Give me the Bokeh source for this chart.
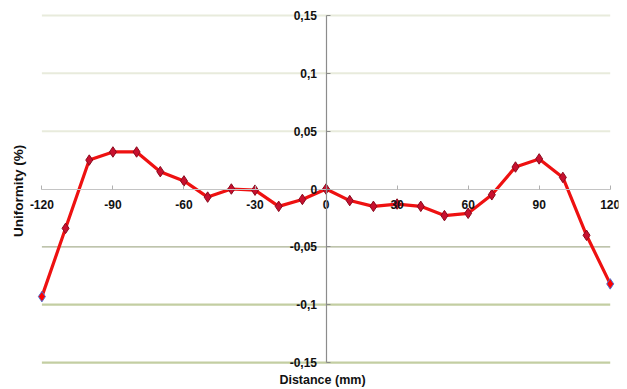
from bokeh.plotting import figure
from bokeh.models import Range1d, LinearAxis, FixedTicker
from bokeh.embed import file_html
from bokeh.resources import INLINE

distance = [-120, -110, -100, -90, -80, -70, -60, -50, -40, -30, -20, -10, 0,
            10, 20, 30, 40, 50, 60, 70, 80, 90, 100, 110, 120]
uniformity = [-0.093, -0.034, 0.025, 0.032, 0.032, 0.015, 0.007, -0.007, 0.0,
              -0.001, -0.015, -0.009, 0.0, -0.010, -0.015, -0.013, -0.015,
              -0.023, -0.021, -0.005, 0.019, 0.026, 0.010, -0.040, -0.082]

x_ticks = [-120, -90, -60, -30, 0, 30, 60, 90, 120]
x_tick_labels = ["-120", "-90", "-60", "-30", "0", "30", "60", "90", "120"]
y_ticks = [-0.15, -0.1, -0.05, 0, 0.05, 0.1, 0.15]
y_tick_labels = ["-0,15", "-0,1", "-0,05", "0", "0,05", "0,1", "0,15"]
upper_grid = [0.05, 0.1, 0.15]
lower_grid = [-0.1, -0.15]
mid_grid = [-0.05]
x_label = "Distance (mm)"
y_label = "Uniformity  (%)"

FONT = "Liberation Sans"

p = figure(width=627, height=389, output_backend="svg", toolbar_location=None,
           x_range=Range1d(-126.5, 123.5), y_range=Range1d(-0.156, 0.156),
           min_border_left=26, min_border_right=9, min_border_top=8,
           min_border_bottom=19)
p.outline_line_color = None
p.xgrid.visible = False
p.ygrid.visible = False
p.background_fill_color = "white"

# default axes: titles only
for ax in (p.below[0], p.left[0]):
    ax.ticker = FixedTicker(ticks=[])
    ax.axis_line_color = None
    ax.major_tick_line_color = None
    ax.minor_tick_line_color = None
    ax.major_label_text_font_size = "0px"
    ax.major_tick_out = 0
    ax.major_tick_in = 0
    ax.minor_tick_out = 0
    ax.minor_tick_in = 0
    ax.major_label_standoff = 0
    ax.axis_label_text_font = FONT
    ax.axis_label_text_font_style = "bold"
    ax.axis_label_text_color = "#111111"
p.below[0].axis_label = x_label
p.below[0].axis_label_text_font_size = "12.5px"
p.below[0].axis_label_standoff = 3
p.left[0].axis_label = y_label
p.left[0].axis_label_text_font_size = "13.5px"
p.left[0].axis_label_standoff = 1

# gridlines spanning the data extent
x0 = distance[0]
x1 = distance[-1]
p.segment(x0=[x0] * len(upper_grid), x1=[x1] * len(upper_grid), y0=upper_grid,
          y1=upper_grid, line_color="#e8ebdc", line_width=2, level="underlay")
p.segment(x0=[x0] * len(lower_grid), x1=[x1] * len(lower_grid), y0=lower_grid,
          y1=lower_grid, line_color="#c3cea2", line_width=2.2, level="underlay")
p.segment(x0=[x0] * len(mid_grid), x1=[x1] * len(mid_grid), y0=mid_grid,
          y1=mid_grid, line_color="#a9b091", line_width=1.2, level="underlay")

# crossing axes
xa = LinearAxis(fixed_location=0, ticker=FixedTicker(ticks=x_ticks),
                bounds=(x0, x1),
                major_label_overrides=dict(zip(x_ticks, x_tick_labels)))
xa.axis_line_color = "#c4c4c4"
xa.axis_line_width = 1.2
xa.major_tick_line_color = "#b0b0b0"
xa.major_tick_in = 4
xa.major_tick_out = 0
xa.minor_tick_line_color = None
xa.major_label_standoff = 11
xa.major_label_text_font = FONT
xa.major_label_text_font_style = "bold"
xa.major_label_text_font_size = "12px"
xa.major_label_text_color = "#111111"
p.add_layout(xa, "below")

ya = LinearAxis(fixed_location=0, ticker=FixedTicker(ticks=y_ticks),
                bounds=(y_ticks[0], y_ticks[-1]),
                major_label_overrides=dict(zip(y_ticks, y_tick_labels)))
ya.axis_line_color = "#8c8c8c"
ya.axis_line_width = 1.2
ya.major_tick_line_color = "#8c8c8c"
ya.major_tick_in = 4
ya.major_tick_out = 0
ya.minor_tick_line_color = None
ya.major_label_standoff = 9
ya.major_label_text_font = FONT
ya.major_label_text_font_style = "bold"
ya.major_label_text_font_size = "12px"
ya.major_label_text_color = "#111111"
p.add_layout(ya, "left")

# data
p.line(distance, uniformity, line_color="#ee1111", line_width=3.2)
p.scatter(distance[1:-1], uniformity[1:-1], marker="diamond", size=10.5,
          fill_color="#c8102e", line_color="#8a0a1e", line_width=1)
p.scatter([distance[0], distance[-1]], [uniformity[0], uniformity[-1]],
          marker="diamond", size=10.5, fill_color="#ff0000",
          line_color="#4a6fd0", line_width=1)

open("out.html", "w").write(file_html(p, INLINE))
